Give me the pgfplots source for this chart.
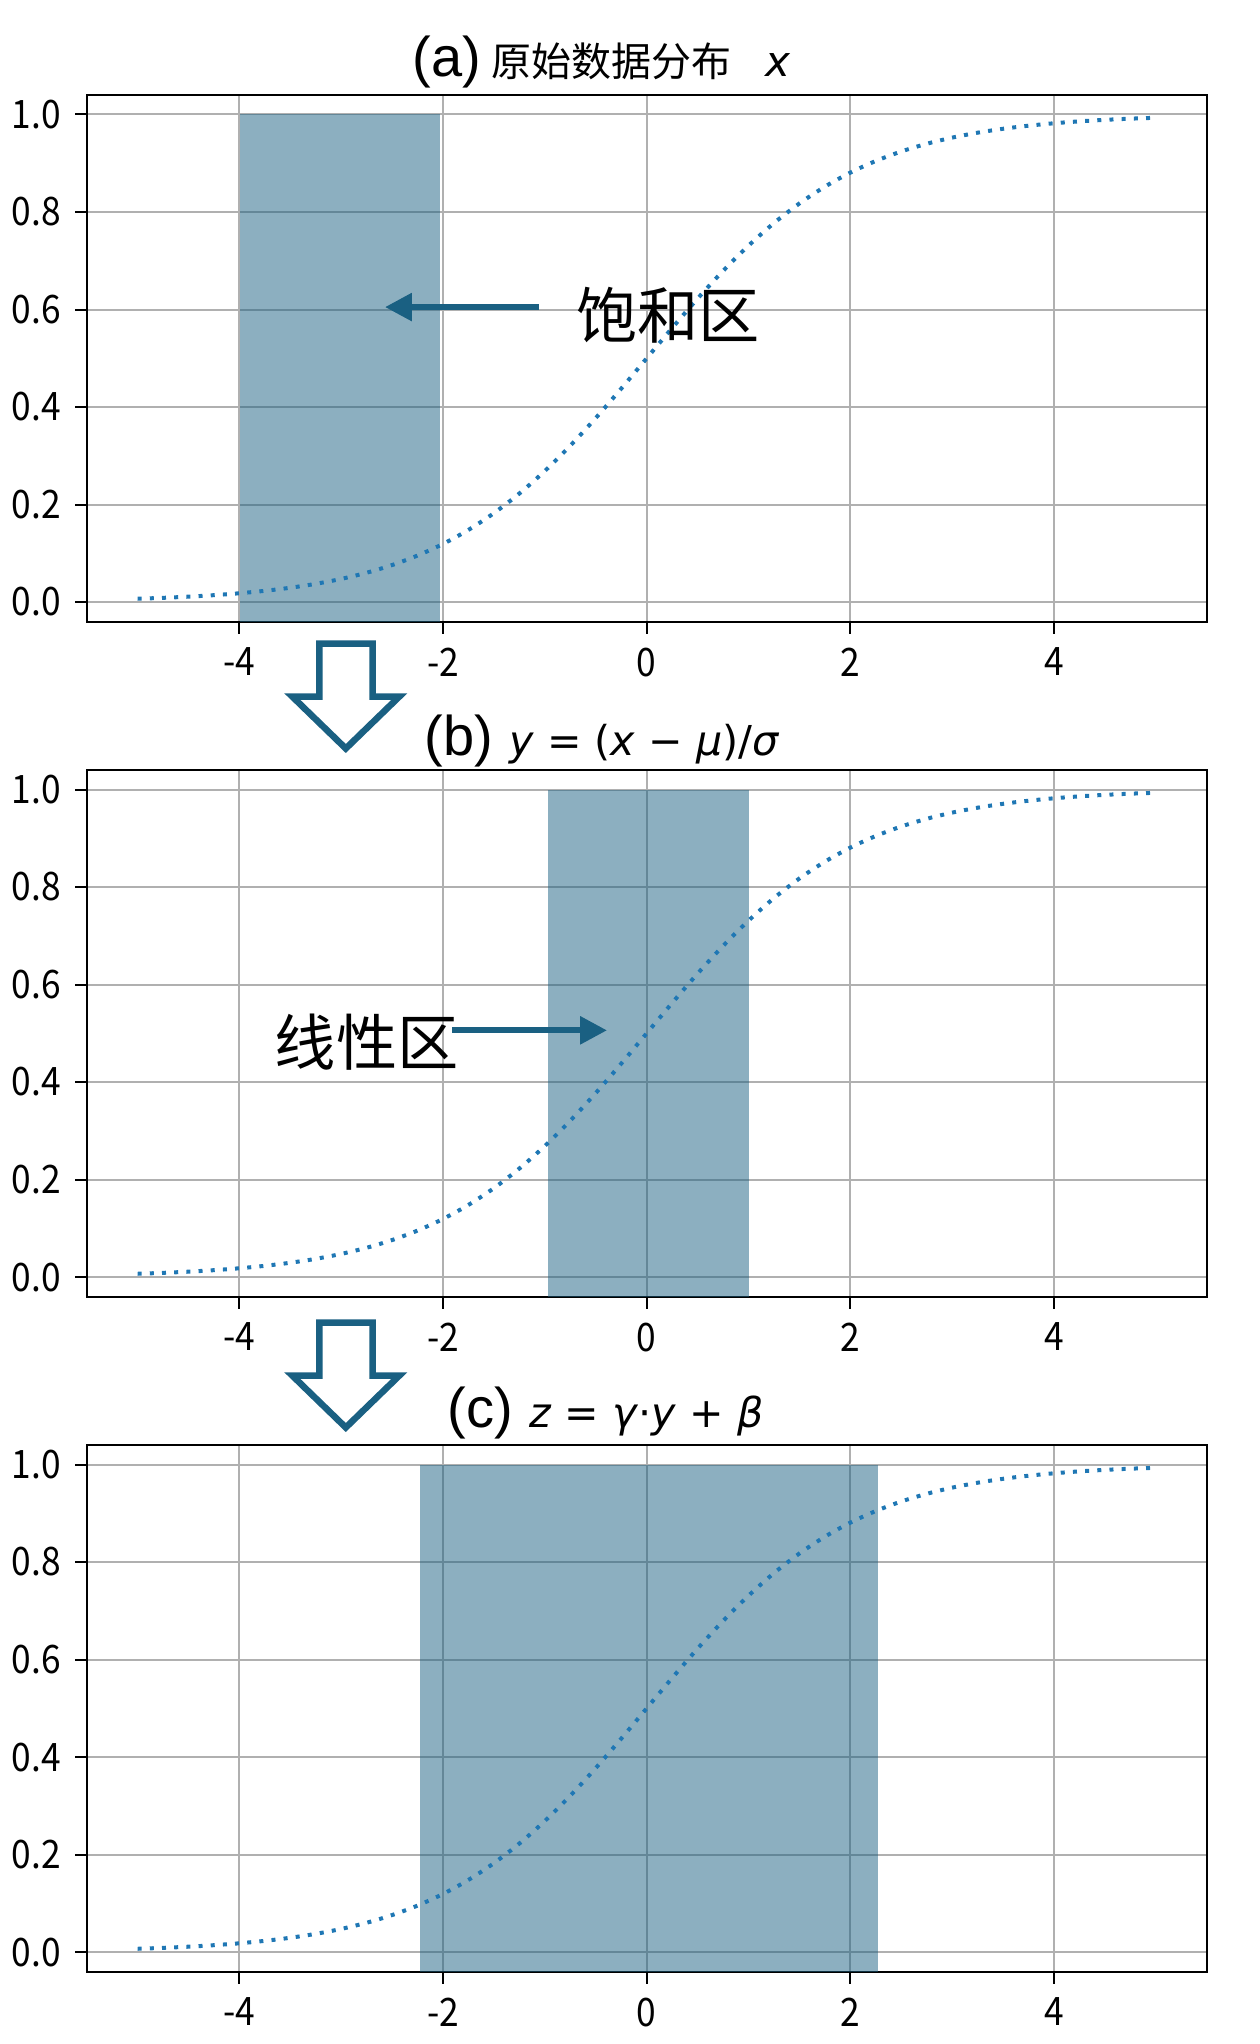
\documentclass[border=0pt]{standalone}
\usepackage{fontspec}
\setmainfont{Noto Sans CJK SC}
\newfontfamily\arial{Liberation Sans}
\newfontfamily\dv{DejaVu Sans}
\usepackage{pgfplots}
\usepackage{pgfplotstable}
\pgfplotsset{compat=1.18}
\usetikzlibrary{arrows.meta}
\definecolor{arrowc}{RGB}{26,96,130}
\definecolor{curvec}{HTML}{1F77B4}
\definecolor{gridc}{HTML}{B0B0B0}

\pgfplotstableread{
x y
-5 0.006693
-4.75 0.008577
-4.5 0.010987
-4.25 0.014064
-4 0.017986
-3.75 0.022977
-3.5 0.029312
-3.25 0.037327
-3 0.047426
-2.75 0.060087
-2.5 0.075858
-2.25 0.095349
-2 0.119203
-1.75 0.148047
-1.5 0.182426
-1.25 0.222700
-1 0.268941
-0.75 0.320821
-0.5 0.377541
-0.25 0.437823
0 0.5
0.25 0.562177
0.5 0.622459
0.75 0.679179
1 0.731059
1.25 0.777300
1.5 0.817574
1.75 0.851953
2 0.880797
2.25 0.904651
2.5 0.924142
2.75 0.939913
3 0.952574
3.25 0.962673
3.5 0.970688
3.75 0.977023
4 0.982014
4.25 0.985936
4.5 0.989013
4.75 0.991423
5 0.993307
}\sig

\newcommand\tl[1]{\scalebox{0.9}[1]{#1}}
\pgfplotsset{
  panel/.style={
    scale only axis, width=280pt, height=131.75pt,
    anchor=south west,
    xmin=-5.5, xmax=5.5, ymin=-0.041, ymax=1.040,
    xtick={-4,-2,0,2,4}, xticklabels={\tl{-4},\tl{-2},\tl{0},\tl{2},\tl{4}},
    ytick={0,0.2,0.4,0.6,0.8,1.0}, yticklabels={\tl{0.0},\tl{0.2},\tl{0.4},\tl{0.6},\tl{0.8},\tl{1.0}},
    grid=major, major grid style={draw=gridc, line width=0.5pt},
    axis line style={line width=0.6pt, black},
    tick align=outside, major tick length=2.9pt,
    tick pos=left,
    tick style={line width=0.5pt, black},
    every tick label/.append style={font=\fontsize{9.8}{9.8}\selectfont},
  },
  sigcurve/.style={curvec, line width=1pt, dash pattern=on 1pt off 2.05pt, line cap=butt, smooth},
  span/.style={draw=none, fill=arrowc, fill opacity=0.5},
}

\begin{document}
\begin{tikzpicture}
\path[use as bounding box] (0pt,0pt) rectangle (315pt,-511pt);

% (a)
\begin{axis}[panel, at={(21.675pt,-155.5pt)}]
\addplot[span] coordinates {(-3.99,-0.041) (-2.03,-0.041) (-2.03,1) (-3.99,1)} -- cycle;
\addplot[sigcurve] table {\sig};
\draw[arrowc, line width=1.5pt, -{Triangle[length=6.7pt,width=6.7pt]}] (axis cs:-1.06,0.605) -- (axis cs:-2.57,0.605);
\node[anchor=base west, inner sep=0pt, font=\fontsize{15.3}{15.3}\selectfont] at (axis cs:-0.70,0.54) {饱和区};
\end{axis}

% (b)
\begin{axis}[panel, at={(21.675pt,-324.25pt)}]
\addplot[span] coordinates {(-0.965,-0.041) (1.0,-0.041) (1.0,1) (-0.965,1)} -- cycle;
\addplot[sigcurve] table {\sig};
\draw[arrowc, line width=1.5pt, -{Triangle[length=6.7pt,width=6.7pt]}] (axis cs:-1.91,0.506) -- (axis cs:-0.39,0.506);
\node[anchor=base west, inner sep=0pt, font=\fontsize{15.3}{15.3}\selectfont] at (axis cs:-3.66,0.433) {线性区};
\end{axis}

% (c)
\begin{axis}[panel, at={(21.675pt,-493pt)}]
\addplot[span] coordinates {(-2.23,-0.041) (2.27,-0.041) (2.27,1) (-2.23,1)} -- cycle;
\addplot[sigcurve] table {\sig};
\end{axis}

\begin{scope}[x=0.25pt,y=-0.25pt]
% hollow arrows
\draw[arrowc, line width=1.625pt, fill=white, miter limit=10, line join=miter]
  (319.3,643.7) -- (372.7,643.7) -- (372.7,696.5) -- (399.4,696.5) -- (345.8,748.5) -- (292.2,696.5) -- (319.3,696.5) -- cycle;
\draw[arrowc, line width=1.625pt, fill=white, miter limit=10, line join=miter]
  (319.3,1322.7) -- (372.7,1322.7) -- (372.7,1375.5) -- (399.4,1375.5) -- (345.8,1427.5) -- (292.2,1375.5) -- (319.3,1375.5) -- cycle;
% titles
\node[anchor=base west, inner sep=0pt] at (412,77)
  {{\arial\fontsize{14}{14}\selectfont (a)}\hspace{2.5pt}{\fontsize{10}{10}\selectfont 原始数据分布}\hspace{8.5pt}{\dv\fontsize{10.5}{10.5}\selectfont\itshape x}};
\node[anchor=base west, inner sep=0pt] at (424,755)
  {{\arial\fontsize{14}{14}\selectfont (b)}\hspace{4pt}{\dv\fontsize{10.3}{10.3}\selectfont\textit{y} = (\textit{x} − \textit{μ})/\textit{σ}}};
\node[anchor=base west, inner sep=0pt] at (447,1427)
  {{\arial\fontsize{14}{14}\selectfont (c)}\hspace{4pt}{\dv\fontsize{10.3}{10.3}\selectfont\textit{z} = \textit{γ}⋅\textit{y} + \textit{β}}};
\end{scope}
\end{tikzpicture}
\end{document}
